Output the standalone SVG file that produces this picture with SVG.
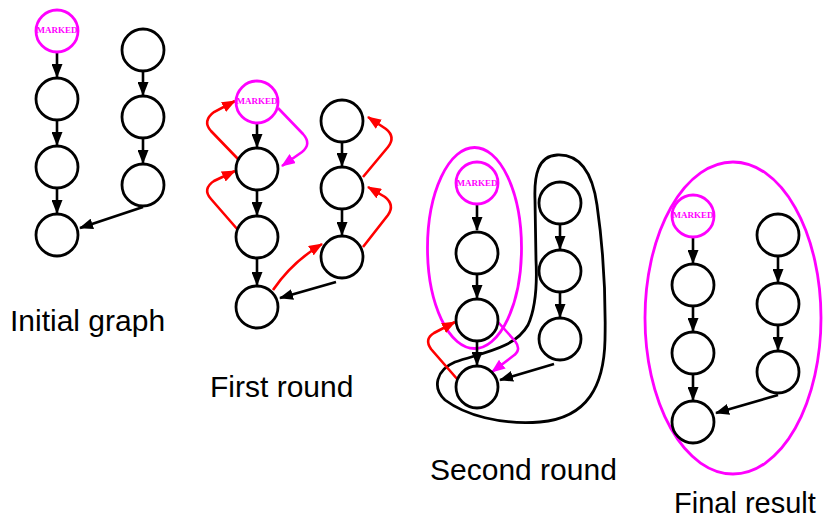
<svg xmlns="http://www.w3.org/2000/svg" width="825" height="519" viewBox="0 0 825 519">
<style>
.n{fill:#fff;stroke:#000;stroke-width:2.8}
.m{fill:#fff;stroke:#ff00ff;stroke-width:2.8}
.mt{font-family:"Liberation Serif","Times New Roman",serif;font-weight:bold;font-size:9px;fill:#ff00ff;text-anchor:middle}
.e{fill:none;stroke:#000;stroke-width:2.6;marker-end:url(#ab)}
.r{fill:none;stroke:#ff0000;stroke-width:2.6;marker-end:url(#ar)}
.p{fill:none;stroke:#ff00ff;stroke-width:2.6;marker-end:url(#ap)}
.g{fill:none;stroke:#ff00ff;stroke-width:2.8}
.b{fill:none;stroke:#000;stroke-width:2.8}
.lbl{font-family:"Liberation Sans",Arial,sans-serif;font-size:30px;fill:#000}
</style>
<defs>
<marker id="ab" markerUnits="userSpaceOnUse" markerWidth="14" markerHeight="11" refX="13" refY="5.5" orient="auto"><path d="M0,0 L14,5.5 L0,11 z" fill="#000"/></marker>
<marker id="ar" markerUnits="userSpaceOnUse" markerWidth="14" markerHeight="11" refX="13" refY="5.5" orient="auto"><path d="M0,0 L14,5.5 L0,11 z" fill="#ff0000"/></marker>
<marker id="ap" markerUnits="userSpaceOnUse" markerWidth="14" markerHeight="11" refX="13" refY="5.5" orient="auto"><path d="M0,0 L14,5.5 L0,11 z" fill="#ff00ff"/></marker>
</defs>

<g id="groups">
<ellipse class="g" cx="474.5" cy="248" rx="47" ry="100.5"/>
<path class="b" d="M535,200 C534,175 538,156 557,155 C578,154 592,170 597,205 C602,240 606,290 605,340 C604,385 588,418 540,422 C500,425 465,415 445,400 C432,388 436,370 455,362 C485,352 515,348 528,325 C537,305 537,280 536,260 Z"/>
<ellipse class="g" cx="733" cy="318" rx="88" ry="156"/>
</g>

<g id="connectors">
<line class="e" x1="57" y1="53" x2="57" y2="77"/>
<line class="e" x1="57" y1="121" x2="57" y2="145"/>
<line class="e" x1="57" y1="189" x2="57" y2="213"/>
<line class="e" x1="143" y1="72" x2="143" y2="95"/>
<line class="e" x1="143" y1="139" x2="143" y2="163"/>
<line class="e" x1="143" y1="207" x2="80" y2="228"/>
<line class="e" x1="257" y1="124" x2="257" y2="147"/>
<line class="e" x1="257" y1="191" x2="257" y2="215"/>
<line class="e" x1="257" y1="259" x2="257" y2="285"/>
<line class="e" x1="342" y1="143" x2="342" y2="166"/>
<line class="e" x1="342" y1="210" x2="342" y2="235"/>
<line class="e" x1="336" y1="282" x2="280" y2="298"/>
<path class="r" d="M238,159 L211,131 Q202,121 214,112 L235,101"/>
<path class="r" d="M238,230 L211,199 Q202,189 214,181 L235,171"/>
<path class="p" d="M278,108 L303,134 Q312,144 302,152 L282,166"/>
<path class="r" d="M363,177 L388,147 Q396,137 386,129 L368,117"/>
<path class="r" d="M363,247 L388,215 Q395,205 385,197 L368,187"/>
<path class="r" d="M273,290 Q292,262 322,244"/>
<line class="e" x1="477" y1="205" x2="477" y2="230"/>
<line class="e" x1="477" y1="275" x2="477" y2="298"/>
<line class="e" x1="477" y1="342" x2="477" y2="365"/>
<line class="e" x1="560" y1="225" x2="560" y2="249"/>
<line class="e" x1="560" y1="293" x2="560" y2="317"/>
<line class="e" x1="554" y1="364" x2="500" y2="380"/>
<path class="r" d="M458,380 L431,349 Q424,339 434,333 L455,322"/>
<path class="p" d="M498,322 L515,341 Q522,350 513,356 L492,372"/>
<line class="e" x1="693" y1="238" x2="693" y2="263"/>
<line class="e" x1="693" y1="307" x2="693" y2="331"/>
<line class="e" x1="693" y1="375" x2="693" y2="400"/>
<line class="e" x1="778" y1="257" x2="778" y2="282"/>
<line class="e" x1="778" y1="326" x2="778" y2="350"/>
<line class="e" x1="778" y1="395" x2="716" y2="413"/>
</g>

<g id="i-m"><circle class="m" cx="57" cy="31" r="21"/><text class="mt" x="57" y="33">MARKED</text></g>
<g id="i-n1"><circle class="n" cx="57" cy="99" r="21"/></g>
<g id="i-n2"><circle class="n" cx="57" cy="167" r="21"/></g>
<g id="i-n3"><circle class="n" cx="57" cy="235" r="21"/></g>
<g id="i-r1"><circle class="n" cx="143" cy="50" r="21"/></g>
<g id="i-r2"><circle class="n" cx="143" cy="117" r="21"/></g>
<g id="i-r3"><circle class="n" cx="143" cy="185" r="21"/></g>

<g id="f-m"><circle class="m" cx="257" cy="102" r="21"/><text class="mt" x="257" y="104">MARKED</text></g>
<g id="f-n1"><circle class="n" cx="257" cy="169" r="21"/></g>
<g id="f-n2"><circle class="n" cx="257" cy="237" r="21"/></g>
<g id="f-n3"><circle class="n" cx="257" cy="307" r="21"/></g>
<g id="f-r1"><circle class="n" cx="342" cy="121" r="21"/></g>
<g id="f-r2"><circle class="n" cx="342" cy="188" r="21"/></g>
<g id="f-r3"><circle class="n" cx="342" cy="257" r="21"/></g>

<g id="s-m"><circle class="m" cx="477" cy="183" r="21"/><text class="mt" x="477" y="185.5">MARKED</text></g>
<g id="s-n1"><circle class="n" cx="477" cy="253" r="21"/></g>
<g id="s-n2"><circle class="n" cx="477" cy="320" r="21"/></g>
<g id="s-n3"><circle class="n" cx="477" cy="387" r="21"/></g>
<g id="s-r1"><circle class="n" cx="560" cy="203" r="21"/></g>
<g id="s-r2"><circle class="n" cx="560" cy="271" r="21"/></g>
<g id="s-r3"><circle class="n" cx="560" cy="339" r="21"/></g>

<g id="z-m"><circle class="m" cx="693" cy="216" r="21"/><text class="mt" x="693" y="218">MARKED</text></g>
<g id="z-n1"><circle class="n" cx="693" cy="285" r="21"/></g>
<g id="z-n2"><circle class="n" cx="693" cy="353" r="21"/></g>
<g id="z-n3"><circle class="n" cx="693" cy="422" r="21"/></g>
<g id="z-r1"><circle class="n" cx="778" cy="235" r="21"/></g>
<g id="z-r2"><circle class="n" cx="778" cy="304" r="21"/></g>
<g id="z-r3"><circle class="n" cx="778" cy="372" r="21"/></g>

<g id="labels">
<text class="lbl" x="10" y="331">Initial graph</text>
<text class="lbl" x="210" y="397">First round</text>
<text class="lbl" x="430" y="480">Second round</text>
<text class="lbl" x="674" y="513" style="font-size:29px">Final result</text>
</g>
</svg>
